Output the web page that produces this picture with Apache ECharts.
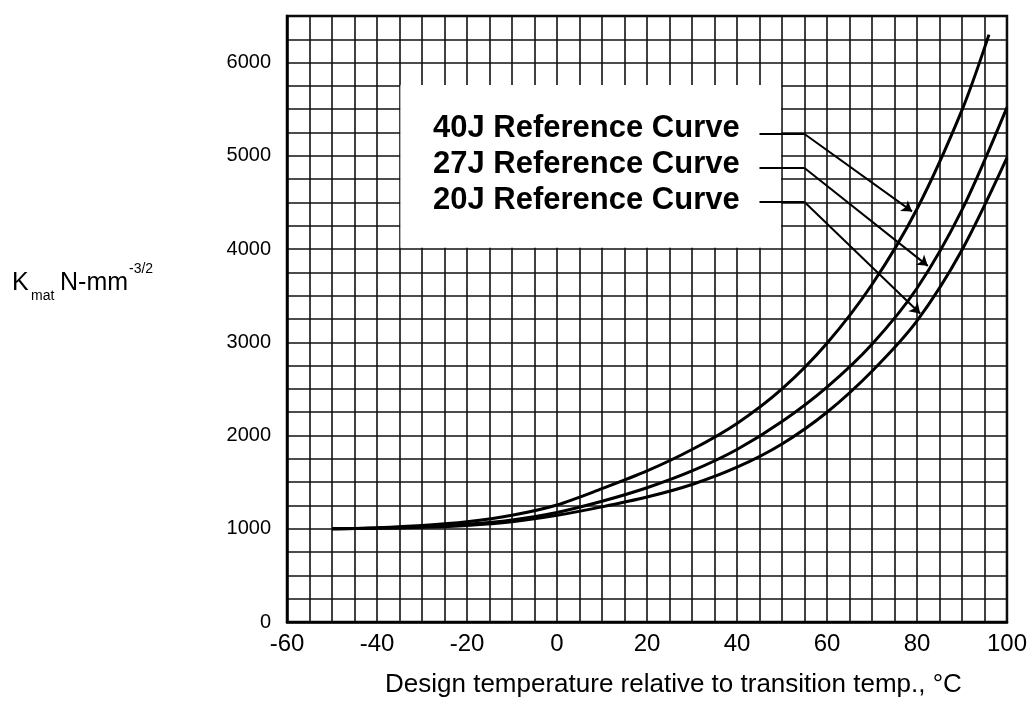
<!DOCTYPE html>
<html>
<head>
<meta charset="utf-8">
<script src="https://cdn.jsdelivr.net/npm/echarts@6/dist/echarts.min.js"></script>
<style>
html,body{margin:0;padding:0;background:#fff;}
#chart{width:1030px;height:718px;}
</style>
</head>
<body>
<div id="chart"></div>
<script>
// ---- data ----
const xTickLabels = [-60, -40, -20, 0, 20, 40, 60, 80, 100];
const yTickLabels = [0, 1000, 2000, 3000, 4000, 5000, 6000];

const temps40J = [-50, -40, -30, -20, -10, 0, 10, 20, 30, 40, 50, 60, 70, 80, 90, 96];
const kmat40J  = [1000, 1012, 1035, 1075, 1145, 1255, 1430, 1620, 1850, 2130, 2500, 2990, 3620, 4430, 5490, 6300];

const temps27J = [-50, -40, -30, -20, -10, 0, 10, 20, 30, 40, 50, 60, 70, 80, 90, 100];
const kmat27J  = [1000, 1008, 1022, 1048, 1095, 1175, 1295, 1440, 1620, 1850, 2150, 2520, 2980, 3580, 4420, 5520];

const temps20J = [-50, -40, -30, -20, -10, 0, 10, 20, 30, 40, 50, 60, 70, 80, 90, 100];
const kmat20J  = [1000, 1005, 1015, 1035, 1075, 1145, 1235, 1340, 1475, 1660, 1910, 2250, 2690, 3230, 3990, 4980];

const curveNames = ['40J Reference Curve', '27J Reference Curve', '20J Reference Curve'];

// leader lines: [text end, corner, arrow tip] in data units
const leader40J = [[45, 5235], [55, 5235], [78.9, 4404]];
const leader27J = [[45, 4870], [55, 4870], [82.4, 3820]];
const leader20J = [[45, 4505], [55, 4505], [80.7, 3310]];

// label box region (blank area in the grid)
const boxX = [-34.8, 49.8];
const boxY = [4015, 5760];

// ---- chart ----
const FONT = '"Liberation Sans", Arial, Helvetica, sans-serif';
const chart = echarts.init(document.getElementById('chart'), null, {renderer: 'canvas'});

function pairs(xs, ys) { return xs.map((x, i) => [x, ys[i]]); }

function curve(name, xs, ys) {
  return {
    name: name,
    type: 'line',
    data: pairs(xs, ys),
    smooth: 0.3,
    showSymbol: false,
    symbol: 'none',
    lineStyle: {color: '#000', width: 3},
    z: 5,
    silent: true
  };
}

function leader(pts) {
  return {
    type: 'lines',
    coordinateSystem: 'cartesian2d',
    z: 6,
    silent: true,
    data: [
      {coords: [pts[0], pts[1]], symbol: ['none', 'none']},
      {coords: [pts[1], pts[2]], symbol: ['none', 'arrow'], symbolSize: [0, 10]}
    ],
    lineStyle: {color: '#000', width: 2, opacity: 1, curveness: 0}
  };
}

const option = {
  backgroundColor: '#fff',
  animation: false,
  grid: {
    left: 287, top: 16, right: 20, bottom: 96,
    show: true, borderColor: '#000', borderWidth: 2.5, backgroundColor: 'transparent'
  },
  xAxis: {
    type: 'value', min: -60, max: 100, interval: 5,
    axisLine: {show: true, onZero: false, lineStyle: {color: '#000', width: 2.5}},
    axisTick: {show: false},
    splitLine: {show: true, lineStyle: {color: '#111', width: 1.6}},
    axisLabel: {
      color: '#000', fontFamily: FONT, fontSize: 24, margin: 10,
      formatter: v => xTickLabels.includes(v) ? String(v) : ''
    }
  },
  yAxis: {
    type: 'value', min: 0, max: 6500, interval: 250,
    axisLine: {show: true, onZero: false, lineStyle: {color: '#000', width: 2.5}},
    axisTick: {show: false},
    splitLine: {show: true, lineStyle: {color: '#111', width: 1.6}},
    axisLabel: {
      color: '#000', fontFamily: FONT, fontSize: 20, margin: 16,
      formatter: v => yTickLabels.includes(v) ? String(v) : ''
    }
  },
  series: [
    {
      type: 'line', data: [], silent: true, z: 3,
      markArea: {
        silent: true,
        itemStyle: {color: '#fff', opacity: 1},
        data: [[{coord: [boxX[0], boxY[1]]}, {coord: [boxX[1], boxY[0]]}]]
      }
    },
    curve(curveNames[0], temps40J, kmat40J),
    curve(curveNames[1], temps27J, kmat27J),
    curve(curveNames[2], temps20J, kmat20J),
    leader(leader40J),
    leader(leader27J),
    leader(leader20J)
  ],
  graphic: [
    {type: 'text', left: 433, top: 113, z: 100,
     style: {text: curveNames[0], fontFamily: FONT, fontWeight: 'bold', fontSize: 31, fill: '#000'}},
    {type: 'text', left: 433, top: 149, z: 100,
     style: {text: curveNames[1], fontFamily: FONT, fontWeight: 'bold', fontSize: 31, fill: '#000'}},
    {type: 'text', left: 433, top: 185, z: 100,
     style: {text: curveNames[2], fontFamily: FONT, fontWeight: 'bold', fontSize: 31, fill: '#000'}},
    // y-axis title: K_mat N-mm^-3/2
    {type: 'text', left: 12, top: 271, z: 100,
     style: {text: 'K', fontFamily: FONT, fontSize: 25, fill: '#000'}},
    {type: 'text', left: 31, top: 289, z: 100,
     style: {text: 'mat', fontFamily: FONT, fontSize: 14, fill: '#000'}},
    {type: 'text', left: 60, top: 271, z: 100,
     style: {text: 'N-mm', fontFamily: FONT, fontSize: 25, fill: '#000'}},
    {type: 'text', left: 129, top: 262, z: 100,
     style: {text: '-3/2', fontFamily: FONT, fontSize: 14, fill: '#000'}},
    // x-axis title
    {type: 'text', left: 385, top: 672, z: 100,
     style: {text: 'Design temperature relative to transition temp., \u00B0C', fontFamily: FONT, fontSize: 26, fill: '#000'}}
  ]
};
chart.setOption(option);
</script>
</body>
</html>
